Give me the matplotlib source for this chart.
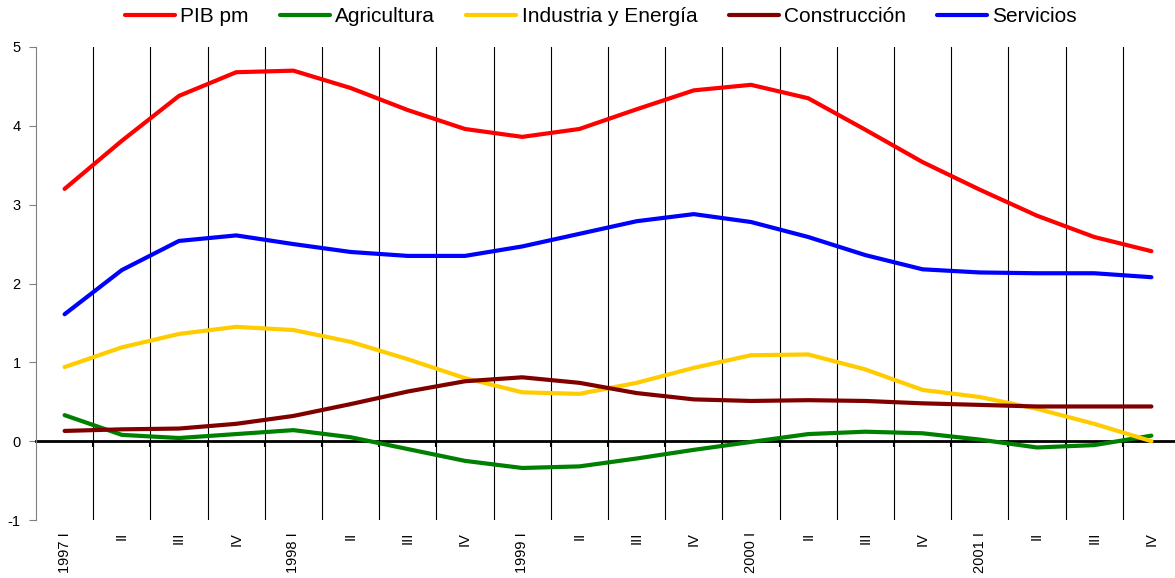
import numpy as np
import matplotlib
matplotlib.use('Agg')
import matplotlib.pyplot as plt

plt.rcParams['font.family'] = ['Liberation Sans', 'DejaVu Sans']
plt.rcParams['axes.unicode_minus'] = False

# Quarters 1997 I .. 2001 IV
quarters = ['1997 I', 'II', 'III', 'IV',
            '1998 I', 'II', 'III', 'IV',
            '1999 I', 'II', 'III', 'IV',
            '2000 I', 'II', 'III', 'IV',
            '2001 I', 'II', 'III', 'IV']

pib = [3.20, 3.81, 4.38, 4.68, 4.70, 4.48, 4.20, 3.96, 3.86, 3.96,
       4.21, 4.45, 4.52, 4.35, 3.95, 3.54, 3.19, 2.86, 2.59, 2.41]
agricultura = [0.33, 0.08, 0.04, 0.09, 0.14, 0.05, -0.10, -0.25, -0.34, -0.32,
               -0.22, -0.11, -0.01, 0.09, 0.12, 0.10, 0.02, -0.08, -0.05, 0.07]
industria = [0.94, 1.19, 1.36, 1.45, 1.41, 1.26, 1.04, 0.80, 0.62, 0.60,
             0.74, 0.93, 1.09, 1.10, 0.91, 0.65, 0.56, 0.41, 0.22, 0.00]
construccion = [0.13, 0.15, 0.16, 0.22, 0.32, 0.47, 0.63, 0.76, 0.81, 0.74,
                0.61, 0.53, 0.51, 0.52, 0.51, 0.48, 0.46, 0.44, 0.44, 0.44]
servicios = [1.61, 2.17, 2.54, 2.61, 2.50, 2.40, 2.35, 2.35, 2.47, 2.63,
             2.79, 2.88, 2.78, 2.59, 2.36, 2.18, 2.14, 2.13, 2.13, 2.08]

series = [('PIB pm', pib, '#FF0000'),
          ('Agricultura', agricultura, '#008000'),
          ('Industria y Energía', industria, '#FFCC00'),
          ('Construcción', construccion, '#800000'),
          ('Servicios', servicios, '#0000FF')]

fig = plt.figure(figsize=(11.75, 5.78), dpi=100)
# right edge of the plot area runs past the image edge, as in the original
ax = fig.add_axes([36 / 1175, 58 / 578, 1144 / 1175, 473 / 578])

x = np.arange(len(quarters))
handles = []
for name, vals, col in series:
    h, = ax.plot(x, vals, color=col, lw=3, label=name, solid_capstyle='round',
                 solid_joinstyle='round', zorder=3)
    handles.append(h)

ax.set_xlim(-0.5, len(quarters) - 0.5)
ax.set_ylim(-1, 5)
ax.set_yticks(range(-1, 6))

# category boundaries: vertical grid lines and small ticks on the zero axis
bounds = x[:-1] + 0.5
ax.set_xticks(bounds)
ax.set_xticklabels([])
ax.grid(axis='x', color='black', lw=0.8, zorder=1)
ax.spines['bottom'].set_position(('data', 0))
ax.spines['bottom'].set_linewidth(2)
ax.spines['bottom'].set_zorder(2)
ax.tick_params(axis='x', direction='out', length=4, width=1.5, color='black')

ax.spines['top'].set_visible(False)
ax.spines['right'].set_visible(False)
ax.spines['left'].set_color('#808080')
ax.tick_params(axis='y', direction='out', length=5, color='#808080',
               labelsize=10.5, pad=6)

trans = ax.get_xaxis_transform()
for i, lab in enumerate(quarters):
    ax.text(i, -0.025, lab, transform=trans, rotation=90, ha='center',
            va='top', fontsize=10.5)

fig.legend(handles=handles, loc='center', bbox_to_anchor=(601 / 1175, 1 - 17 / 578),
           ncol=5, frameon=False, fontsize=15, handlelength=2.4,
           handletextpad=0.25, columnspacing=1.5)

fig.savefig('out.png', dpi=100)
